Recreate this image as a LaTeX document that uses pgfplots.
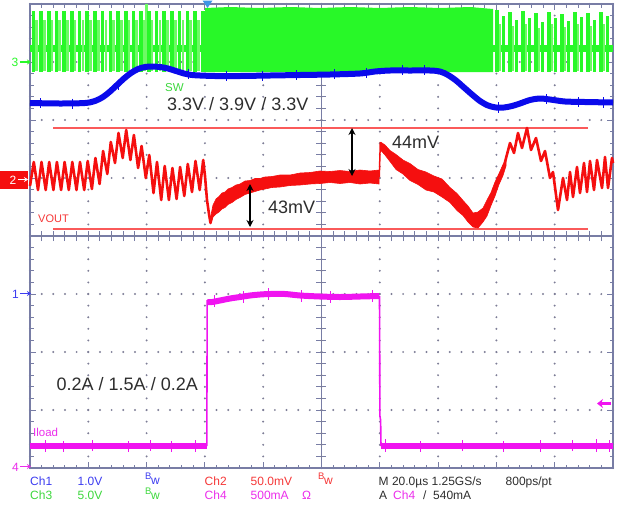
\documentclass[border=0pt]{standalone}
\usepackage{fontspec}
\setmainfont{Liberation Sans}
\usepackage{pgfplots}
\pgfplotsset{compat=1.18}
\usetikzlibrary{arrows.meta}

\definecolor{scgreen}{RGB}{40,248,40}
\definecolor{scgreenpale}{RGB}{110,250,100}
\definecolor{scblue}{RGB}{10,10,235}
\definecolor{scred}{RGB}{245,15,15}
\definecolor{scmag}{RGB}{240,20,240}
\definecolor{sccursor}{RGB}{250,90,90}
\definecolor{scframe}{RGB}{120,125,165}
\definecolor{scdot}{RGB}{125,125,150}
\definecolor{sctext}{RGB}{45,45,45}
\definecolor{txblue}{RGB}{60,60,240}
\definecolor{txgreen}{RGB}{60,215,60}
\definecolor{txred}{RGB}{245,55,55}
\definecolor{txmag}{RGB}{235,45,235}
\definecolor{trig}{RGB}{60,150,230}
\newcommand\fs[1]{\fontsize{#1}{#1}\selectfont}
\newcommand\bwa{{\fs{9.5}B}\kern-0.5pt\raisebox{-4.5pt}{\fs{12}w}}

\begin{document}
\begin{tikzpicture}
% centre cross-hair of the graticule (divisions)
\begin{axis}[scale only axis, width=583pt, height=464pt,
  xmin=-5, xmax=5, ymin=-4, ymax=4,
  axis lines=middle, axis line style={-, draw=scframe, line width=1.2pt},
  xtick={-5,-4.8,...,5}, ytick={-4,-3.8,...,4},
  xticklabels={}, yticklabels={},
  tick align=center, major tick length=10pt,
  tick style={draw=scframe, line width=1pt}]
\end{axis}
% traces, in screen pixels (y downwards)
\begin{axis}[scale only axis, width=583pt, height=464pt,
  xmin=30, xmax=613, ymin=4, ymax=468, y dir=reverse, clip=false,
  axis line style={draw=scframe, line width=1.3pt},
  xtick={30,88.3,146.6,204.9,263.2,321.5,379.8,438.1,496.4,554.7,613},
  ytick={4,62,120,178,236,294,352,410,468},
  minor x tick num=4, minor y tick num=4,
  xticklabels={}, yticklabels={},
  tick align=inside, major tick length=6pt, minor tick length=3.5pt,
  tick style={draw=scframe, line width=1pt},
  grid=major,
  major x grid style={draw=scdot, line width=2.2pt, line cap=round, dash pattern=on 0pt off 11.6pt},
  major y grid style={draw=scdot, line width=2.2pt, line cap=round, dash pattern=on 0pt off 11.66pt},
  unbounded coords=jump]

% ---- SW (Ch3) ----
\addplot[scgreen, line width=7pt] coordinates {(30,48) (205,48)};
\addplot[scgreen, line width=7pt] coordinates {(493,48) (613,48)};
\addplot[scgreenpale, line width=2.6pt] coordinates {
(36.6,20)(36.6,71)(36.6,nan) (44.3,20)(44.3,71)(44.3,nan) (52.0,20)(52.0,71)(52.0,nan)
(59.7,20)(59.7,71)(59.7,nan) (67.4,20)(67.4,71)(67.4,nan) (75.1,20)(75.1,71)(75.1,nan)
(82.8,20)(82.8,71)(82.8,nan) (90.5,20)(90.5,71)(90.5,nan) (98.2,20)(98.2,71)(98.2,nan)
(105.9,20)(105.9,71)(105.9,nan) (113.6,20)(113.6,71)(113.6,nan) (121.3,20)(121.3,71)(121.3,nan)
(129.0,20)(129.0,71)(129.0,nan) (136.7,20)(136.7,71)(136.7,nan) (144.4,20)(144.4,71)(144.4,nan)
(152.1,20)(152.1,71)(152.1,nan) (159.8,20)(159.8,71)(159.8,nan) (167.5,20)(167.5,71)(167.5,nan)
(175.2,20)(175.2,71)(175.2,nan) (182.9,20)(182.9,71)(182.9,nan) (190.6,20)(190.6,71)(190.6,nan)
(198.3,20)(198.3,71)(198.3,nan) (146.7,4)(146.7,66)(146.7,nan)
(500,24)(500,71)(500,nan) (513,26)(513,71)(513,nan) (526,24)(526,71)(526,nan)
(539,28)(539,71)(539,nan) (552,24)(552,71)(552,nan) (565,27)(565,71)(565,nan)
(578,24)(578,71)(578,nan) (591,26)(591,71)(591,nan) (604,24)(604,71)(604,nan)};
\addplot[scgreen, line width=3.6pt] coordinates {
(33.3,11)(33.3,72)(33.3,nan) (41.0,11)(41.0,72)(41.0,nan) (48.7,11)(48.7,72)(48.7,nan)
(56.4,11)(56.4,72)(56.4,nan) (64.1,11)(64.1,72)(64.1,nan) (71.8,11)(71.8,72)(71.8,nan)
(79.5,11)(79.5,72)(79.5,nan) (87.2,11)(87.2,72)(87.2,nan) (94.9,11)(94.9,72)(94.9,nan)
(102.6,11)(102.6,72)(102.6,nan) (110.3,11)(110.3,72)(110.3,nan) (118.0,11)(118.0,72)(118.0,nan)
(125.7,11)(125.7,72)(125.7,nan) (133.4,11)(133.4,72)(133.4,nan) (141.1,11)(141.1,72)(141.1,nan)
(148.8,11)(148.8,72)(148.8,nan) (156.5,11)(156.5,72)(156.5,nan) (164.2,11)(164.2,72)(164.2,nan)
(171.9,11)(171.9,72)(171.9,nan) (179.6,11)(179.6,72)(179.6,nan) (187.3,11)(187.3,72)(187.3,nan)
(195.0,11)(195.0,72)(195.0,nan) (202.7,11)(202.7,72)(202.7,nan)
(497,10)(497,72)(497,nan) (503.5,16)(503.5,72)(503.5,nan) (510,12)(510,72)(510,nan)
(516.5,20)(516.5,72)(516.5,nan) (523,11)(523,72)(523,nan) (529.5,18)(529.5,72)(529.5,nan)
(536,13)(536,72)(536,nan) (542.5,22)(542.5,72)(542.5,nan) (549,12)(549,72)(549,nan)
(555.5,18)(555.5,72)(555.5,nan) (562,14)(562,72)(562,nan) (568.5,21)(568.5,72)(568.5,nan)
(575,12)(575,72)(575,nan) (581.5,17)(581.5,72)(581.5,nan) (588,13)(588,72)(588,nan)
(594.5,20)(594.5,72)(594.5,nan) (601,12)(601,72)(601,nan) (607.5,16)(607.5,72)(607.5,nan)};
\addplot[fill=scgreen, draw=none] coordinates {
(205,72)(205,8)(230,7)(260,8)(290,7)(320,8)(350,7)(380,8)(410,7)(440,8)(470,7)(493,9)(493,72)};

% ---- VIN (Ch1) ----
\addplot[scblue, line width=6pt, smooth] coordinates {
(30,103)(60,103.5)(85,103)(95,101)(103,97)(110,91.5)(117,85)(124,78.5)(131,73)(138,69)
(145,67)(152,66.5)(160,67)(168,68.5)(176,71)(184,73.5)(192,75)(200,75.5)(215,76)(240,76)
(270,75.5)(300,75)(330,74.5)(360,73.5)(375,71.5)(390,70.5)(410,70.5)(430,70.5)(440,71.5)
(448,75)(456,80.5)(464,87.5)(472,94.5)(480,101)(488,105.5)(496,107.5)(504,107.5)(512,106)
(520,103.5)(530,100)(540,98.5)(550,99.5)(565,101.5)(585,102)(613,102.5)};
\addplot[scblue, line width=1pt] coordinates {
(40,98)(40,108)(40,nan) (72,98.5)(72,108.5)(72,nan) (118,80)(118,90)(118,nan)
(188,69)(188,79)(188,nan) (226,71)(226,81)(226,nan) (262,71)(262,81)(262,nan)
(296,70)(296,80)(296,nan) (334,69)(334,79)(334,nan) (366,68)(366,78)(366,nan)
(402,65)(402,75)(402,nan) (424,65)(424,75)(424,nan) (498,102)(498,113)(498,nan)
(546,94)(546,104)(546,nan) (578,97)(578,107)(578,nan) (603,97)(603,108)(603,nan)};

% ---- VOUT (Ch2) ----
\addplot[sccursor, line width=1.4pt] coordinates {(53,128)(588,128)};
\addplot[sccursor, line width=1.4pt] coordinates {(53,229)(588,229)};
\addplot[scred, line width=2.6pt, line join=round] coordinates {
(30,186)(33.8,162)(38.0,190)(41.5,162)(45.7,190)(49.2,162)(53.4,190)(56.9,162)(61.1,190)
(64.6,162)(68.8,190)(72.3,162)(76.5,190)(80.0,162)(84.2,190)(87.7,161)(91.9,189)(95.4,158)
(99.6,184)(103.1,151)(107.3,174)(110.8,142)(115.0,163)(118.5,133)(122.7,158)(126.2,130)
(130.4,160)(133.9,135)(138.1,168)(141.6,146)(145.8,178)(149.3,155)(153.5,193)(157.0,162)
(161.2,200)(164.7,166)(168.9,200)(172.4,168)(176.6,199)(180.1,167)(184.3,196)(187.8,164)
(192.0,192)(195.5,161)(199.7,190)(203.2,160)(205,176)(207,200)(209,214)(210.5,223)(212,216)};
\addplot[fill=scred, draw=scred, line width=0.6pt] coordinates {
(211,215)(213,205)(216,199)(219,196.5)(222,193)(225,192)(228,189)(232,187.5)(236,185)(240,184)
(245,181)(250,180.5)(255,178.5)(260,178.5)(265,177)(272,176.5)(280,175)(290,175)(300,173)
(310,172.5)(320,171)(330,171.5)(340,170.5)(350,171.5)(360,170)(370,171)(379,170)
(379,184)(370,183)(360,184)(350,182.5)(340,183.5)(330,182.5)(320,183.5)(310,184)(300,185)
(290,185.5)(280,187)(272,187.5)(265,189)(260,190)(255,191.5)(250,193)(245,194.5)(240,197.5)
(236,199.5)(232,202.5)(228,204.5)(225,207.5)(222,209)(219,212)(216,214)(213,217)(211,223)};
\addplot[scred, line width=1.5pt] coordinates {(379.3,177)(380.3,142)};
\addplot[fill=scred, draw=scred, line width=0.6pt] coordinates {
(380.5,142)(385,145)(390,150.5)(396,154.5)(403,160)(410,163.5)(418,169.5)(426,172)(434,176)
(442,179)(450,187.5)(457,193.5)(463,200.5)(468,206)(473,213)(478,212)(483,208)(487,200)
(491,192.5)(495,182)(499,173.5)(503,164.5)(506,158)
(506,166)(503,175.5)(499,184.5)(495,196)(491,205.5)(487,216)(483,222)(478,228)(473,227)
(468,222)(463,215.5)(457,210.5)(450,202.5)(442,197)(434,192)(426,190)(418,184.5)(410,180.5)
(403,174)(396,169.5)(390,161.5)(385,155)(380.5,150)};
\addplot[scred, line width=2.6pt, line join=round] coordinates {
(505,162)(510,143)(514,153)(518,133)(522,148)(527,128)(531,150)(536,138)(541,161)(545,151)
(550,178)(553,172)(558,210)(563,178)(567,200)(570,172)(573,197)(577,167)(580,193)(584,163)
(587,192)(590,161)(594,190)(597,160)(602,188)(605,157)(608,188)(612,158)(613,163)};

% ---- Iload (Ch4) ----
\addplot[scmag, line width=6pt] coordinates {(30,446)(206.5,446)};
\addplot[scmag, line width=1.6pt] coordinates {(206.8,446)(207.2,300)};
\addplot[scmag, line width=6pt, smooth] coordinates {
(207.2,302)(212,302)(220,300.5)(230,298.5)(240,297)(250,295.5)(260,294.5)(270,294)(285,294)
(300,295.5)(320,296.5)(340,297)(360,296.5)(379.3,296)};
\addplot[scmag, line width=1.6pt] coordinates {(379.5,296)(379.9,416)(380.6,420)(381,446)};
\addplot[scmag, line width=6pt] coordinates {(381,446)(613,446)};
\addplot[scmag, line width=1pt] coordinates {
(45,440)(45,452)(45,nan) (63,441)(63,452)(63,nan) (92,440)(92,451)(92,nan)
(128,441)(128,452)(128,nan) (150,440)(150,451)(150,nan) (171,441)(171,452)(171,nan)
(195,440)(195,452)(195,nan) (214,295)(214,307)(214,nan) (243,291)(243,303)(243,nan)
(268,288)(268,300)(268,nan) (301,290)(301,302)(301,nan) (330,291)(330,303)(330,nan)
(372,290)(372,302)(372,nan) (385,439)(385,452)(385,nan) (420,441)(420,452)(420,nan)
(462,440)(462,451)(462,nan) (503,441)(503,452)(503,nan) (540,440)(540,452)(540,nan)
(572,440)(572,451)(572,nan) (596,439)(596,452)(596,nan) (609,440)(609,452)(609,nan)};

% ---- annotations ----
\draw[black, line width=1.3pt, {Stealth[length=7pt,width=7pt]}-{Stealth[length=7pt,width=7pt]}]
  (axis cs:250,184) -- (axis cs:250,227);
\draw[black, line width=1.3pt, {Stealth[length=7pt,width=7pt]}-{Stealth[length=7pt,width=7pt]}]
  (axis cs:352,128) -- (axis cs:352,176);
\node[anchor=base west, inner sep=0, text=sctext, font=\fs{18}] at (axis cs:167,110) {3.3V / 3.9V / 3.3V};
\node[anchor=base west, inner sep=0, text=txgreen, font=\fs{11.5}] at (axis cs:165,91.7) {SW};
\node[anchor=base west, inner sep=0, text=sctext, font=\fs{18}] at (axis cs:268,213) {43mV};
\node[anchor=base west, inner sep=0, text=sctext, font=\fs{18}] at (axis cs:392,148) {44mV};
\node[anchor=base west, inner sep=0, text=txred, font=\fs{11}] at (axis cs:38,222.5) {VOUT};
\node[anchor=base west, inner sep=0, text=sctext, font=\fs{18}] at (axis cs:56.5,390) {0.2A / 1.5A / 0.2A};
\node[anchor=base west, inner sep=0, text=txmag, font=\fs{11.5}] at (axis cs:33,436.5) {Iload};

% channel markers
\node[anchor=base west, inner sep=0, text=scgreen, font=\fs{12}] at (axis cs:11.5,66.5) {3};
\draw[scgreen, line width=1.2pt, -{Stealth[length=4pt,width=5pt]}] (axis cs:20,62) -- (axis cs:31,62);
\fill[scred] (axis cs:0,170.5) rectangle (axis cs:28,188.5);
\node[anchor=base west, inner sep=0, text=white, font=\fs{12}] at (axis cs:9.5,184) {2};
\draw[white, line width=1.2pt, -{Stealth[length=4pt,width=5pt]}] (axis cs:18,179.5) -- (axis cs:28,179.5);
\node[anchor=base west, inner sep=0, text=txblue, font=\fs{12}] at (axis cs:12,298) {1};
\draw[txblue, line width=1.2pt, -{Stealth[length=4pt,width=5pt]}] (axis cs:20,293.5) -- (axis cs:31,293.5);
\node[anchor=base west, inner sep=0, text=txmag, font=\fs{12}] at (axis cs:12,471) {4};
\draw[txmag, line width=1.2pt, -{Stealth[length=4pt,width=5pt]}] (axis cs:20,466.5) -- (axis cs:31,466.5);
\draw[scmag, line width=2.4pt, -{Stealth[length=6pt,width=9pt]}] (axis cs:611,403.5) -- (axis cs:597,403.5);
\fill[trig] (axis cs:202.5,0.5) -- (axis cs:212.5,0.5) -- (axis cs:207.5,8) -- cycle;

% status lines
\node[anchor=base west, inner sep=0, text=txblue, font=\fs{12}] at (axis cs:30,485) {Ch1};
\node[anchor=base west, inner sep=0, text=txblue, font=\fs{12}] at (axis cs:77.5,485) {1.0V};
\node[anchor=base west, inner sep=0, text=txblue] at (axis cs:145,479.5) {\bwa};
\node[anchor=base west, inner sep=0, text=txred, font=\fs{12}] at (axis cs:204.5,485) {Ch2};
\node[anchor=base west, inner sep=0, text=txred, font=\fs{12}] at (axis cs:250.5,485) {50.0mV};
\node[anchor=base west, inner sep=0, text=txred] at (axis cs:318,479.5) {\bwa};
\node[anchor=base west, inner sep=0, text=sctext, font=\fs{12}] at (axis cs:378.5,485) {M 20.0µs 1.25GS/s};
\node[anchor=base west, inner sep=0, text=sctext, font=\fs{12}] at (axis cs:505.5,485) {800ps/pt};
\node[anchor=base west, inner sep=0, text=txgreen, font=\fs{12}] at (axis cs:30,499) {Ch3};
\node[anchor=base west, inner sep=0, text=txgreen, font=\fs{12}] at (axis cs:77.5,499) {5.0V};
\node[anchor=base west, inner sep=0, text=txgreen] at (axis cs:145,494.5) {\bwa};
\node[anchor=base west, inner sep=0, text=txmag, font=\fs{12}] at (axis cs:204.5,499) {Ch4};
\node[anchor=base west, inner sep=0, text=txmag, font=\fs{12}] at (axis cs:250.5,499) {500mA};
\node[anchor=base west, inner sep=0, text=txmag, font=\fs{12}] at (axis cs:302,499) {Ω};
\node[anchor=base west, inner sep=0, text=sctext, font=\fs{12}] at (axis cs:379,499) {A};
\node[anchor=base west, inner sep=0, text=txmag, font=\fs{12}] at (axis cs:393,499) {Ch4};
\node[anchor=base west, inner sep=0, text=sctext, font=\fs{12}] at (axis cs:423,499) {/};
\node[anchor=base west, inner sep=0, text=sctext, font=\fs{12}] at (axis cs:433,499) {540mA};

\path (axis cs:0,504) rectangle (axis cs:618,0);
\end{axis}
\end{tikzpicture}
\end{document}
